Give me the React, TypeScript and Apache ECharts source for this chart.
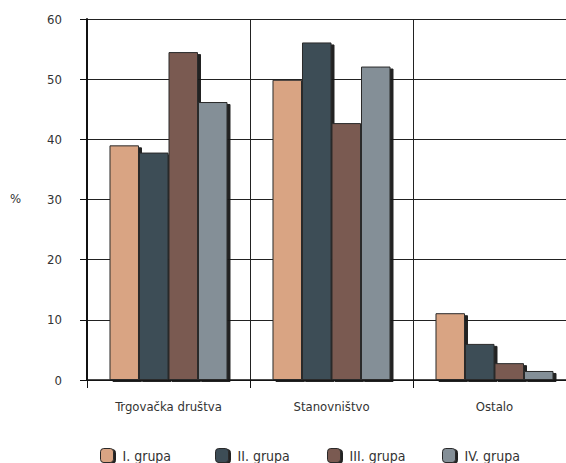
import React, { useEffect, useRef } from "react";
import * as echarts from "echarts";

const categories = ["Trgovačka društva", "Stanovništvo", "Ostalo"];
const seriesNames = ["I. grupa", "II. grupa", "III. grupa", "IV. grupa"];
const grupa1 = [39.0, 49.9, 11.1];
const grupa2 = [37.8, 56.1, 6.0];
const grupa3 = [54.5, 42.7, 2.8];
const grupa4 = [46.2, 52.1, 1.5];
const yTicks = [0, 10, 20, 30, 40, 50, 60];

const colors = ["#D9A483", "#3D4D57", "#7A5A51", "#848F97"];
const FONT = "'DejaVu Sans Condensed', 'Liberation Sans Narrow', sans-serif";

export default function App() {
  const ref = useRef<HTMLDivElement>(null);
  useEffect(() => {
    const chart = echarts.init(ref.current!, null, { renderer: "svg" });
    const values = [grupa1, grupa2, grupa3, grupa4];
    const legendLeft = [100, 215, 327, 442];
    chart.setOption({
      animation: false,
      backgroundColor: "#fff",
      textStyle: { fontFamily: FONT },
      grid: { left: 87, top: 19, width: 489, height: 361, outerBoundsMode: "none", containLabel: false },
      legend: seriesNames.map((n, i) => ({
        data: [n],
        left: legendLeft[i],
        top: 448,
        itemWidth: 13,
        itemHeight: 14,
        itemGap: 0,
        itemStyle: {
          borderColor: "#2a2a2a",
          borderWidth: 1,
          shadowColor: "rgba(20,20,20,0.95)",
          shadowOffsetX: 2,
          shadowOffsetY: 1,
          shadowBlur: 0,
        },
        textStyle: { fontFamily: FONT, fontSize: 14, color: "#333", padding: [0, 0, 0, 4] },
        padding: 0,
        selectedMode: false,
      })),
      graphic: [
        {
          type: "text",
          left: 10,
          top: 192,
          style: { text: "%", fontFamily: FONT, fontSize: 13, fill: "#333" },
        },
      ],
      xAxis: {
        type: "category",
        data: categories,
        axisLine: { show: true, lineStyle: { color: "#111", width: 1.5 } },
        axisTick: { show: true, length: 8, lineStyle: { color: "#111" } },
        axisLabel: { fontFamily: FONT, fontSize: 13, color: "#333", margin: 20 },
        splitLine: { show: true, lineStyle: { color: "#222", width: 1 } },
      },
      yAxis: {
        type: "value",
        min: yTicks[0],
        max: yTicks[yTicks.length - 1],
        interval: 10,
        axisLine: { show: true, lineStyle: { color: "#111", width: 2 } },
        axisTick: { show: true, length: 7, lineStyle: { color: "#111" } },
        axisLabel: { fontFamily: FONT, fontSize: 13, color: "#333", margin: 25 },
        splitLine: { show: true, lineStyle: { color: "#222", width: 1 } },
      },
      series: seriesNames.map((n, i) => ({
        name: n,
        type: "bar",
        data: values[i],
        barGap: "0%",
        barCategoryGap: "27.6%",
        itemStyle: {
          color: colors[i],
          borderColor: "#2a2a2a",
          borderWidth: 1,
          shadowColor: "rgba(20,20,20,0.95)",
          shadowOffsetX: 3,
          shadowOffsetY: 2,
          shadowBlur: 0,
        },
      })),
    });
    return () => chart.dispose();
  }, []);
  return (
    <div
      ref={ref}
      style={{ position: "absolute", left: 0, top: 0, width: 566, height: 463 }}
    />
  );
}
